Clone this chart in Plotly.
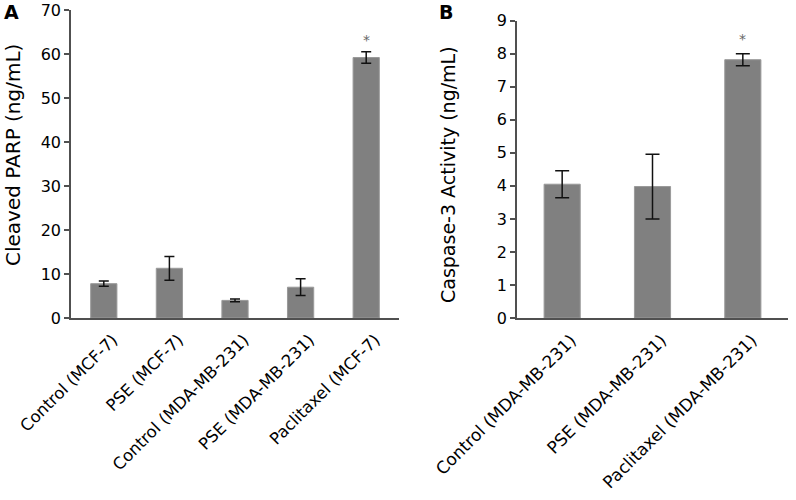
import plotly.graph_objects as go

# Panel A data
cats_a = ["Control (MCF-7)", "PSE (MCF-7)", "Control (MDA-MB-231)", "PSE (MDA-MB-231)", "Paclitaxel (MCF-7)"]
vals_a = [7.8, 11.3, 4.0, 7.0, 59.2]
errs_a = [0.6, 2.7, 0.3, 1.9, 1.3]
sig_a = [False, False, False, False, True]
yticks_a = [0, 10, 20, 30, 40, 50, 60, 70]

# Panel B data
cats_b = ["Control (MDA-MB-231)", "PSE (MDA-MB-231)", "Paclitaxel (MDA-MB-231)"]
vals_b = [4.05, 3.98, 7.82]
errs_b = [0.41, 0.98, 0.18]
sig_b = [False, False, True]
yticks_b = [0, 1, 2, 3, 4, 5, 6, 7, 8, 9]

FONT = "DejaVu Sans"
BAR = "#808080"
AX = "#505050"
TXT = "#000000"

W, H = 796, 500


def px(x):
    return x / W


def py(y):
    return 1 - y / H


fig = go.Figure()
fig.add_trace(go.Bar(x=cats_a, y=vals_a, marker=dict(color=BAR, line=dict(color="#9a9a9a", width=1)),
                     error_y=dict(type="data", array=errs_a, color="#111111", thickness=1.5, width=5),
                     xaxis="x", yaxis="y", showlegend=False))
fig.add_trace(go.Bar(x=cats_b, y=vals_b, marker=dict(color=BAR, line=dict(color="#9a9a9a", width=1)),
                     error_y=dict(type="data", array=errs_b, color="#111111", thickness=1.5, width=7),
                     xaxis="x2", yaxis="y2", showlegend=False))

axis_common = dict(showline=True, linecolor=AX, linewidth=1.5, showgrid=False, zeroline=False,
                   automargin=False)
xfont = dict(family=FONT, size=16.5, color=TXT)
xfont_b = dict(family=FONT, size=17, color=TXT)
yfont = dict(family=FONT, size=16, color=TXT)

fig.update_layout(
    width=W, height=H,
    margin=dict(l=0, r=0, t=0, b=0),
    paper_bgcolor="white", plot_bgcolor="white",
    bargap=0.6,
    xaxis=dict(domain=[px(71), px(399)], anchor="y", tickangle=-45, ticks="", tickfont=xfont,
               ticklabelshift=9, ticklabelstandoff=4, **axis_common),
    yaxis=dict(domain=[py(318), py(10)], anchor="x", range=[0, 70], tickvals=yticks_a,
               ticks="outside", ticklen=5, tickcolor=AX, tickwidth=1.5, tickfont=yfont, **axis_common),
    xaxis2=dict(domain=[px(517), px(788)], anchor="y2", tickangle=-45, ticks="", tickfont=xfont_b,
                ticklabelshift=9, ticklabelstandoff=4, **axis_common),
    yaxis2=dict(domain=[py(318), py(20.7)], anchor="x2", range=[0, 9], tickvals=yticks_b,
                ticks="outside", ticklen=5, tickcolor=AX, tickwidth=1.5, tickfont=yfont, **axis_common),
)

annotations = []
for c, v, e, s in zip(cats_a, vals_a, errs_a, sig_a):
    if s:
        annotations.append(dict(x=c, y=v + e + 2.6, xref="x", yref="y", text="*", showarrow=False,
                                xanchor="center", yanchor="middle",
                                font=dict(family=FONT, size=14, color="#666666")))
for c, v, e, s in zip(cats_b, vals_b, errs_b, sig_b):
    if s:
        annotations.append(dict(x=c, y=v + e + 0.45, xref="x2", yref="y2", text="*", showarrow=False,
                                xanchor="center", yanchor="middle",
                                font=dict(family=FONT, size=14, color="#666666")))

annotations += [
    dict(x=px(11), y=py(12), xref="paper", yref="paper", text="<b>A</b>", showarrow=False,
         xanchor="center", yanchor="middle", font=dict(family=FONT, size=19, color="#000000")),
    dict(x=px(446), y=py(12), xref="paper", yref="paper", text="<b>B</b>", showarrow=False,
         xanchor="center", yanchor="middle", font=dict(family=FONT, size=19, color="#000000")),
    dict(x=px(13), y=py(155), xref="paper", yref="paper", text="Cleaved PARP (ng/mL)",
         textangle=-90, showarrow=False, xanchor="center", yanchor="middle",
         font=dict(family=FONT, size=20, color=TXT)),
    dict(x=px(448), y=py(175), xref="paper", yref="paper", text="Caspase-3 Activity (ng/mL)",
         textangle=-90, showarrow=False, xanchor="center", yanchor="middle",
         font=dict(family=FONT, size=19, color=TXT)),
]
fig.update_layout(annotations=annotations)

fig.write_html("out.html", config={"displayModeBar": False},
               post_script="document.body.style.margin='0';")
